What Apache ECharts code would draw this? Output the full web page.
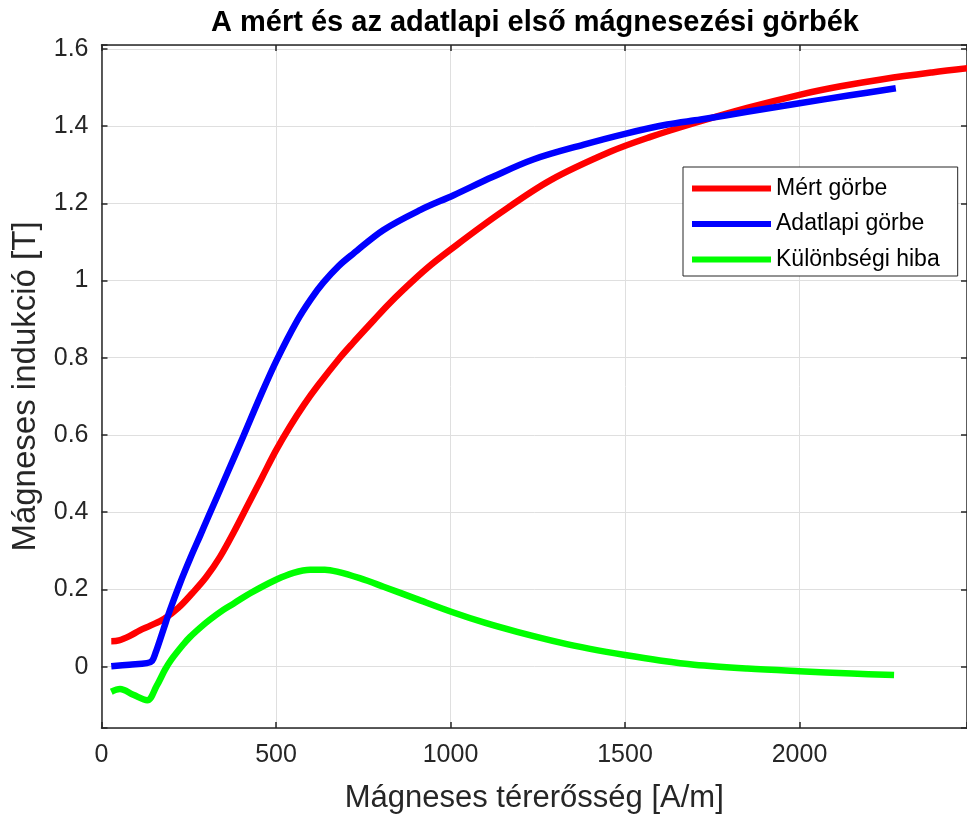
<!DOCTYPE html>
<html>
<head>
<meta charset="utf-8">
<script src="https://cdn.jsdelivr.net/npm/echarts@6/dist/echarts.min.js"></script>
<style>
  html, body { margin: 0; padding: 0; background: #fff; }
  #chart { width: 967px; height: 816px; }
</style>
</head>
<body>
<div id="chart"></div>
<script>
// Measured first magnetisation curve (H in A/m, B in T)
const hMert = [28, 50, 80, 110, 140, 180, 220, 260, 300, 340, 380, 420, 460, 500, 540, 580, 620, 683, 720, 780, 820, 866, 930, 1000, 1143, 1287, 1459, 1573, 1700, 1850, 2000, 2118, 2243, 2380, 2482];
const bMert = [0.066, 0.068, 0.079, 0.094, 0.106, 0.124, 0.152, 0.190, 0.232, 0.285, 0.350, 0.420, 0.490, 0.560, 0.622, 0.678, 0.728, 0.800, 0.838, 0.897, 0.936, 0.977, 1.030, 1.080, 1.175, 1.260, 1.334, 1.372, 1.408, 1.447, 1.481, 1.503, 1.522, 1.539, 1.550];

// Datasheet curve
const hAdat = [28, 80, 130, 145, 155, 177, 196, 225, 254, 283, 306, 360, 407, 455, 502, 560, 600, 636, 680, 722, 808, 914, 1009, 1120, 1239, 1382, 1500, 1621, 1717, 1850, 2000, 2140, 2276];
const bAdat = [0.001, 0.005, 0.009, 0.015, 0.036, 0.095, 0.146, 0.216, 0.280, 0.340, 0.388, 0.500, 0.598, 0.700, 0.794, 0.895, 0.952, 0.995, 1.038, 1.070, 1.131, 1.183, 1.221, 1.268, 1.314, 1.352, 1.380, 1.404, 1.417, 1.437, 1.459, 1.479, 1.498];

// Difference error
const hHiba = [28, 53, 91, 131, 158, 182, 200, 235, 254, 283, 311, 349, 378, 426, 500, 550, 598, 640, 675, 740, 808, 900, 1002, 1100, 1191, 1315, 1400, 1500, 1600, 1698, 1850, 2000, 2150, 2271];
const bHiba = [-0.065, -0.058, -0.073, -0.087, -0.050, -0.008, 0.018, 0.058, 0.077, 0.101, 0.122, 0.147, 0.163, 0.190, 0.225, 0.243, 0.251, 0.251, 0.246, 0.229, 0.207, 0.176, 0.142, 0.113, 0.090, 0.062, 0.046, 0.030, 0.016, 0.005, -0.005, -0.012, -0.018, -0.022];

const seriesNames = ['Mért görbe', 'Adatlapi görbe', 'Különbségi hiba'];
const seriesColors = ['#ff0000', '#0000ff', '#00ff00'];

const titleText = 'A mért és az adatlapi első mágnesezési görbék';
const xName = 'Mágneses térerősség [A/m]';
const yName = 'Mágneses indukció [T]';

const FONT = '"Liberation Sans", Arial, Helvetica, sans-serif';
const AX = '#262626';

function pairs(xs, ys) { return xs.map((x, i) => [x, ys[i]]); }

const chart = echarts.init(document.getElementById('chart'), null, { renderer: 'canvas' });

// only label the 0.2 steps, not the axis extent
function yFmt(v) {
  const r = Math.round(v * 5) / 5;
  if (Math.abs(v - r) > 1e-6) return '';
  return String(Math.round(r * 10) / 10);
}
function xFmt(v) {
  return (Math.abs(v % 500) < 1e-6) ? String(v) : '';
}

const common = {
  axisLine: { show: true, onZero: false, lineStyle: { color: AX, width: 1.5 } },
  axisTick: { show: true, inside: true, length: 6, lineStyle: { color: AX, width: 1.5 } }
};

const lineSeries = [pairs(hMert, bMert), pairs(hAdat, bAdat), pairs(hHiba, bHiba)].map((d, i) => ({
  name: seriesNames[i],
  type: 'line',
  data: d,
  showSymbol: false,
  symbol: 'none',
  smooth: 0.35,
  clip: true,
  lineStyle: { color: seriesColors[i], width: 6.5, cap: 'butt', join: 'round' },
  itemStyle: { color: seriesColors[i] },
  z: 3 + i
}));

chart.setOption({
  animation: false,
  backgroundColor: '#fff',
  title: {
    text: titleText,
    left: 530,
    textAlign: 'center',
    top: 3,
    textStyle: { fontFamily: FONT, fontSize: 29, fontWeight: 'bold', color: '#000' }
  },
  legend: {
    orient: 'vertical',
    left: 683,
    top: 167,
    padding: [10, 18, 5, 9],
    itemGap: 12.5,
    itemWidth: 79,
    itemHeight: 6,
    icon: 'rect',
    backgroundColor: '#fff',
    borderColor: AX,
    borderWidth: 1,
    borderRadius: 0,
    textStyle: { fontFamily: FONT, fontSize: 23, color: '#000' },
    data: seriesNames
  },
  grid: { left: 101.5, right: 0, top: 45, bottom: 88, containLabel: false, outerBoundsMode: 'none' },
  xAxis: [
    Object.assign({
      type: 'value', min: 0, max: 2480, interval: 500, position: 'bottom',
      name: xName, nameLocation: 'middle', nameGap: 55,
      nameTextStyle: { fontFamily: FONT, fontSize: 31, color: AX },
      axisLabel: { formatter: xFmt, fontFamily: FONT, fontSize: 25, color: AX, margin: 15 },
      splitLine: { show: true, lineStyle: { color: '#dfdfdf', width: 1 } }
    }, common),
    Object.assign({
      type: 'value', min: 0, max: 2480, interval: 500, position: 'top',
      axisLabel: { show: false }, splitLine: { show: false }
    }, common)
  ],
  yAxis: [
    Object.assign({
      type: 'value', min: -0.159, max: 1.61, splitNumber: 9, position: 'left',
      name: yName, nameLocation: 'middle', nameGap: 55, nameRotate: 90,
      nameTextStyle: { fontFamily: FONT, fontSize: 33, color: AX },
      axisLabel: { formatter: yFmt, fontFamily: FONT, fontSize: 25, color: AX, margin: 13 },
      splitLine: { show: true, lineStyle: { color: '#dfdfdf', width: 1 } }
    }, common),
    Object.assign({
      type: 'value', min: -0.159, max: 1.61, splitNumber: 9, position: 'right',
      axisLabel: { show: false }, splitLine: { show: false }
    }, common)
  ],
  series: lineSeries
});
</script>
</body>
</html>
